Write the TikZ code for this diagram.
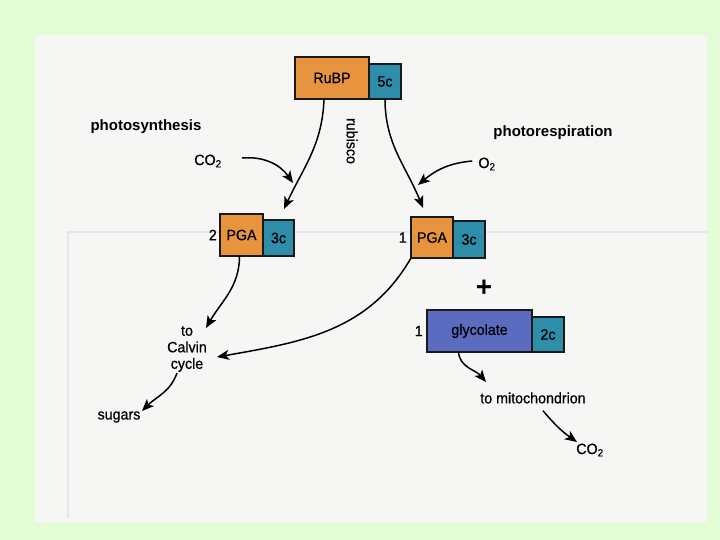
\documentclass[tikz,border=0pt]{standalone}
\usepackage{fontspec}
\setmainfont{Liberation Sans}
\newfontfamily\inkfont[FakeBold=0.7,FakeStretch=0.95]{Liberation Sans}
\usepackage{xcolor}
\definecolor{leaf}{HTML}{E3FCD6}
\definecolor{paper}{HTML}{F6F6F4}
\definecolor{ghost}{HTML}{E3E6EA}
\definecolor{peach}{HTML}{E8943E}
\definecolor{seal}{HTML}{2E8DA8}
\definecolor{iris}{HTML}{5B6BC0}
\usetikzlibrary{arrows.meta,positioning}
\tikzset{
  >={Stealth[length=12pt,width=10pt,inset=3pt]},
  mol/.style  ={draw=black!90,line width=1.3pt,fill=peach,inner sep=0pt,outer sep=0pt,
                minimum height=42pt,font=\inkfont\fontsize{15}{17}\selectfont},
  tag/.style  ={mol,fill=seal,minimum width=32pt,minimum height=35pt,anchor=south west},
  cnt/.style  ={font=\inkfont\fontsize{15}{17}\selectfont,inner sep=1pt},
  lbl/.style  ={font=\inkfont\fontsize{15}{16.5}\selectfont,inner sep=1pt,align=center},
  head/.style ={font=\bfseries\fontsize{15}{17}\selectfont,inner sep=1pt},
  flow/.style ={->,line width=1.5pt},
}

\begin{document}
\begin{tikzpicture}[x=1pt,y=-1pt]
% page
\fill[leaf] (0,0) rectangle (720,540);
\fill[paper] (35,35) rectangle (707,522);
\draw[ghost,line width=2pt] (68,518) -- (68,232) -- (707,232);
% molecules
\node[mol,minimum width=74pt] (rubp) at (332,78) {RuBP};
\node[tag] (rubpc) at (rubp.south east) {5c};
\node[mol,minimum width=43pt] (pgal) at (241.5,235) {PGA};
\node[tag,minimum width=31pt,minimum height=36pt] (pgalc) at (pgal.south east) {3c};
\node[cnt,left=2pt of pgal] (nl) {2};
\node[mol,minimum width=42pt,minimum height=41pt] (pgar) at (432,237.5) {PGA};
\node[tag,minimum height=37pt] (pgarc) at (pgar.south east) {3c};
\node[cnt,left=3pt of pgar] (nr) {1};
\node[mol,fill=iris,minimum width=105pt] (glyc) at (479.5,331) {glycolate};
\node[tag] (glycc) at (glyc.south east) {2c};
\node[cnt,left=3pt of glyc] (ng) {1};
% labels
\node[head] (ps) at (146,127) {photosynthesis};
\node[head] (pr) at (553,133) {photorespiration};
\node[lbl,rotate=-90] (rub) at (352,141) {rubisco};
\node[lbl] (co2a) at (208,161) {CO\textsubscript{2}};
\node[lbl] (o2) at (487,164) {O\textsubscript{2}};
\node[lbl] (calvin) at (187,349) {to\\Calvin\\cycle};
\node[lbl] (sug) at (119,417) {sugars};
\node[font=\bfseries\fontsize{28}{28}\selectfont,inner sep=0pt] (plus) at (484,288) {+};
\node[lbl] (mito) at (533,398) {to mitochondrion};
\node[lbl] (co2b) at (590,450) {CO\textsubscript{2}};
% arrow ends
\coordinate (tipco) at (293,183);
\coordinate (tipl) at (284,209);
\coordinate (tipr) at (423,208);
\coordinate (tipo) at (418,185);
\coordinate (tipcal) at (206,328);
\coordinate (tipcyc) at (217,357);
\coordinate (tipmit) at (486,382);
\coordinate (tipsug) at (142,411);
\coordinate (tipout) at (577,442);
% arrows
\draw[flow] ([xshift=19pt,yshift=3pt]co2a.east) to[out=5,in=125] (tipco);
\draw[flow] ([xshift=-8pt]rubp.south) to[out=-92,in=65] (tipl);
\draw[flow] (rubpc.south) to[out=-90,in=112] (tipr);
\draw[flow] ([xshift=-5pt,yshift=3pt]o2.west) to[out=185,in=40] (tipo);
\draw[flow] ([xshift=-2pt]pgal.south) to[out=-90,in=60] (tipcal);
\draw[flow] (pgar.south west) to[out=-120,in=10] (tipcyc);
\draw[flow] ([xshift=-10pt]calvin.south) to[out=-110,in=45] (tipsug);
\draw[flow] ([xshift=-21pt]glyc.south) to[out=-85,in=130] (tipmit);
\draw[flow] ([xshift=10pt,yshift=-6pt]mito.south) to[out=-50,in=145] (tipout);
\end{tikzpicture}
\end{document}
